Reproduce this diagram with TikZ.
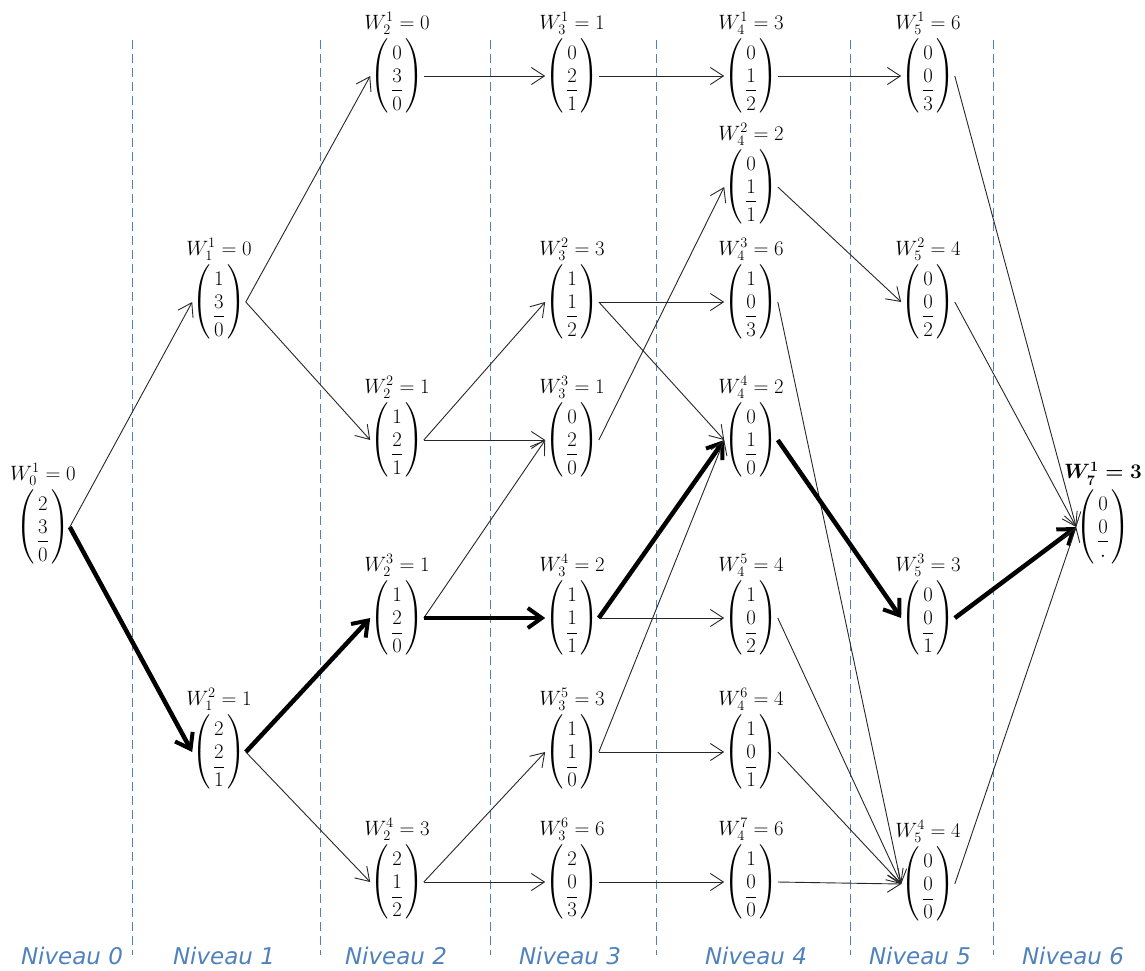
\documentclass[tikz,border=0pt]{standalone}
\usepackage{amsmath}
\usepackage{fontspec}
\newfontfamily\nivfont{DejaVu Sans}
\usetikzlibrary{arrows.meta}
\definecolor{niv}{RGB}{79,129,189}
\newcommand{\vecc}[3]{$\setlength{\arraycolsep}{2.5pt}\left(\begin{array}{c}#1\\[1pt] \dfrac{#2}{#3}\end{array}\right)$}
\newcommand{\wn}[6]{%
  \node[vec] (#1) at (#2) {\vecc{#3}{#4}{#5}};
  \node[lab, anchor=south] (#1l) at ([yshift=4pt]#1.north) {$#6$};}
\begin{document}
\begin{tikzpicture}[x=1pt,y=-1pt,
  vec/.style={inner sep=0pt, font=\fontsize{22}{26}\selectfont},
  lab/.style={inner sep=0pt, font=\fontsize{22.5}{26}\selectfont},
  e/.style={-{Straight Barb[length=13pt,width=17pt,line width=0.9pt]}, line width=0.9pt, draw=black!85},
  b/.style={-{Straight Barb[length=14pt,width=20pt,line width=4pt]}, line width=4.5pt, draw=black},
  sep/.style={draw=niv, dash pattern=on 9pt off 5pt, line width=0.9pt},
  niveau/.style={text=niv, inner sep=0pt, font=\nivfont\itshape\fontsize{23}{27}\selectfont}]
\useasboundingbox (0,0) rectangle (1145,970);
% separators
\foreach \xx/\nm in {132/s1,320/s2,490/s3,656/s4,850/s5,993/s6}{
  \coordinate (\nm a) at (\xx,40);
  \coordinate (\nm b) at (\xx,955);
  \draw[sep] (\nm a) -- (\nm b);
}
% level labels
\node[niveau] (n0) at (72,956) {Niveau 0};
\node[niveau] (n1) at (224,956) {Niveau 1};
\node[niveau] (n2) at (396,956) {Niveau 2};
\node[niveau] (n3) at (570,956) {Niveau 3};
\node[niveau] (n4) at (756,956) {Niveau 4};
\node[niveau] (n5) at (920,956) {Niveau 5};
\node[niveau] (n6) at (1073,956) {Niveau 6};
% nodes
\wn{W01}{43,527}{2}{3}{0}{W_0^1 = 0}
\wn{W11}{219,302}{1}{3}{0}{W_1^1 = 0}
\wn{W12}{219,752}{2}{2}{1}{W_1^2 = 1}
\wn{W21}{397,76}{0}{3}{0}{W_2^1 = 0}
\wn{W22}{397,440}{1}{2}{1}{W_2^2 = 1}
\wn{W23}{397,618}{1}{2}{0}{W_2^3 = 1}
\wn{W24}{397,882}{2}{1}{2}{W_2^4 = 3}
\wn{W31}{572,76}{0}{2}{1}{W_3^1 = 1}
\wn{W32}{572,302}{1}{1}{2}{W_3^2 = 3}
\wn{W33}{572,440}{0}{2}{0}{W_3^3 = 1}
\wn{W34}{572,618}{1}{1}{1}{W_3^4 = 2}
\wn{W35}{572,752}{1}{1}{0}{W_3^5 = 3}
\wn{W36}{572,882}{2}{0}{3}{W_3^6 = 6}
\wn{W41}{751,76}{0}{1}{2}{W_4^1 = 3}
\wn{W42}{751,187}{0}{1}{1}{W_4^2 = 2}
\wn{W43}{751,302}{1}{0}{3}{W_4^3 = 6}
\wn{W44}{751,440}{0}{1}{0}{W_4^4 = 2}
\wn{W45}{751,618}{1}{0}{2}{W_4^5 = 4}
\wn{W46}{751,752}{1}{0}{1}{W_4^6 = 4}
\wn{W47}{751,882}{1}{0}{0}{W_4^7 = 6}
\wn{W51}{928,76}{0}{0}{3}{W_5^1 = 6}
\wn{W52}{928,302}{0}{0}{2}{W_5^2 = 4}
\wn{W53}{928,618}{0}{0}{1}{W_5^3 = 3}
\wn{W54}{928,884}{0}{0}{0}{W_5^4 = 4}
\wn{W71}{1103,527}{0}{0}{\cdot}{\boldsymbol{W_7^1 = 3}}
% edges
\draw[e] (W01.east) -- (W11.west);
\draw[b] (W01.east) -- (W12.west);
\draw[e] (W11.east) -- (W21.west);
\draw[e] (W11.east) -- (W22.west);
\draw[b] (W12.east) -- (W23.west);
\draw[e] (W12.east) -- (W24.west);
\draw[e] (W21.east) -- (W31.west);
\draw[e] (W22.east) -- (W32.west);
\draw[e] (W22.east) -- (W33.west);
\draw[e] (W23.east) -- (W33.west);
\draw[b] (W23.east) -- (W34.west);
\draw[e] (W24.east) -- (W35.west);
\draw[e] (W24.east) -- (W36.west);
\draw[e] (W31.east) -- (W41.west);
\draw[e] (W32.east) -- (W43.west);
\draw[e] (W32.east) -- (W44.west);
\draw[e] (W33.east) -- (W42.west);
\draw[b] (W34.east) -- (W44.west);
\draw[e] (W34.east) -- (W45.west);
\draw[e] (W35.east) -- (W44.west);
\draw[e] (W35.east) -- (W46.west);
\draw[e] (W36.east) -- (W47.west);
\draw[e] (W41.east) -- (W51.west);
\draw[e] (W42.east) -- (W52.west);
\draw[e] (W43.east) -- (W54.west);
\draw[b] (W44.east) -- (W53.west);
\draw[e] (W45.east) -- (W54.west);
\draw[e] (W46.east) -- (W54.west);
\draw[e] (W47.east) -- (W54.west);
\draw[e] (W51.east) -- (W71.west);
\draw[e] (W52.east) -- (W71.west);
\draw[b] (W53.east) -- (W71.west);
\draw[e] (W54.east) -- (W71.west);
\end{tikzpicture}
\end{document}
